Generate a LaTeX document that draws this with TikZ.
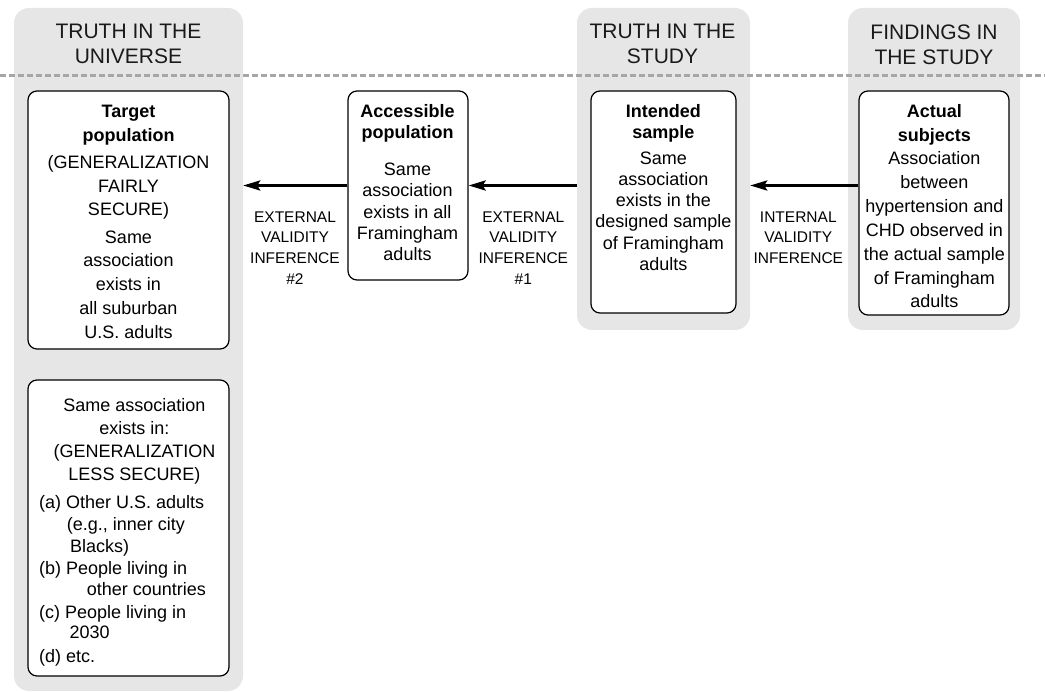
\documentclass[tikz,border=0pt]{standalone}
\usepackage{fontspec}
\setmainfont{Liberation Sans}
\usetikzlibrary{arrows.meta}
\definecolor{panelgray}{HTML}{E6E6E6}
\definecolor{dashgray}{HTML}{A6A6A6}
\definecolor{headtext}{HTML}{1A1A1A}
\begin{document}
\begin{tikzpicture}[x=1pt,y=-1pt,
  panel/.style={fill=panelgray, draw=none, rounded corners=15pt, inner sep=0pt},
  box/.style={draw=black, line width=1.2pt, rounded corners=9pt, fill=white, inner sep=0pt},
  head/.style={font=\fontsize{21}{25}\selectfont, align=center, anchor=north, inner sep=0pt, text=headtext},
  ttl/.style={font=\bfseries\fontsize{18}{#1}\selectfont, align=center, anchor=north, inner sep=0pt},
  body/.style={font=\fontsize{18}{#1}\selectfont, align=center, anchor=north, inner sep=0pt},
  item/.style={font=\fontsize{18}{22}\selectfont, anchor=base west, inner sep=0pt},
  lbl/.style={font=\fontsize{15.5}{20.8}\selectfont, align=center, anchor=north, inner sep=0pt},
  infer/.style={line width=2.8pt, -{Stealth[length=17pt,width=10pt,inset=3pt]}},
  dashline/.style={draw=dashgray, line width=3pt, dash pattern=on 5.5pt off 3.5pt}
]
\useasboundingbox (0,0) rectangle (1045,692);

% panels
\node[panel, minimum width=229pt, minimum height=683pt] (pU) at (128.5,349.5) {};
\node[panel, minimum width=173pt, minimum height=322pt] (pS) at (663.5,169) {};
\node[panel, minimum width=172pt, minimum height=322pt] (pF) at (934,169) {};

% headers
\node[head] (hU) at (128.5,24.2) {TRUTH IN THE\\UNIVERSE};
\node[head] (hS) at (662.5,24.2) {TRUTH IN THE\\STUDY};
\node[head] (hF) at (934,24.2) {FINDINGS IN\\THE STUDY};

% dashed separator
\coordinate (dL) at (0,75.5);
\coordinate (dR) at (1045,75.5);
\draw[dashline] (dL) -- (dR);

% boxes
\node[box, minimum width=201pt, minimum height=258pt] (target) at (128.5,220) {};
\node[box, minimum width=120pt, minimum height=189pt] (access) at (408,185.5) {};
\node[box, minimum width=145pt, minimum height=222pt] (intended) at (663.5,202) {};
\node[box, minimum width=150pt, minimum height=224pt] (actual) at (934,203) {};
\node[box, minimum width=201pt, minimum height=296pt] (other) at (128.5,528) {};

% target text
\node[ttl=24] (tT) at (128.5,104.6) {Target\\population};
\node[body=23.6] (tB1) at (128.5,155.3) {(GENERALIZATION\\FAIRLY\\SECURE)};
\node[body=23.75] (tB2) at (128.5,230.3) {Same\\association\\exists in\\all suburban\\U.S. adults};

% accessible text
\node[ttl=20.7] (aT) at (407.5,104.6) {Accessible\\population};
\node[body=21.2] (aB) at (407.5,162.9) {Same\\association\\exists in all\\Framingham\\adults};

% intended text
\node[ttl=20.7] (iT) at (663.3,104.6) {Intended\\sample};
\node[body=21.3] (iB) at (663.3,151.3) {Same\\association\\exists in the\\designed sample\\of Framingham\\adults};

% actual text
\node[ttl=24] (cT) at (934.3,104.6) {Actual\\subjects};
\node[body=23.9] (cB) at (934.3,151.3) {Association\\between\\hypertension and\\CHD observed in\\the actual sample\\of Framingham\\adults};

% other text
\node[body=23.2] (oB) at (134.5,398) {Same association\\exists in:\\(GENERALIZATION\\LESS SECURE)};
\node[item] (oa) at (39,508.1) {(a) Other U.S. adults};
\node[item] (oa2) at (66.7,530.4) {(e.g., inner city};
\node[item] (oa3) at (70,552.4) {Blacks)};
\node[item] (ob) at (39,574.7) {(b) People living in};
\node[item] (ob2) at (86.7,595.4) {other countries};
\node[item] (oc) at (39,618.1) {(c) People living in};
\node[item] (oc2) at (69.3,638.9) {2030};
\node[item] (od) at (39,662.9) {(d) etc.};

% arrows
\draw[infer] (access.west) -- (access.west -| pU.east);
\draw[infer] (access.east -| pS.west) -- (access.east);
\draw[infer] (access.east -| actual.west) -- (access.east -| pS.east);

% arrow labels
\node[lbl] (l2) at (295,211.2) {EXTERNAL\\VALIDITY\\INFERENCE\\\#2};
\node[lbl] (l1) at (523.3,211.2) {EXTERNAL\\VALIDITY\\INFERENCE\\\#1};
\node[lbl] (l0) at (798.3,211.2) {INTERNAL\\VALIDITY\\INFERENCE};
\end{tikzpicture}
\end{document}
